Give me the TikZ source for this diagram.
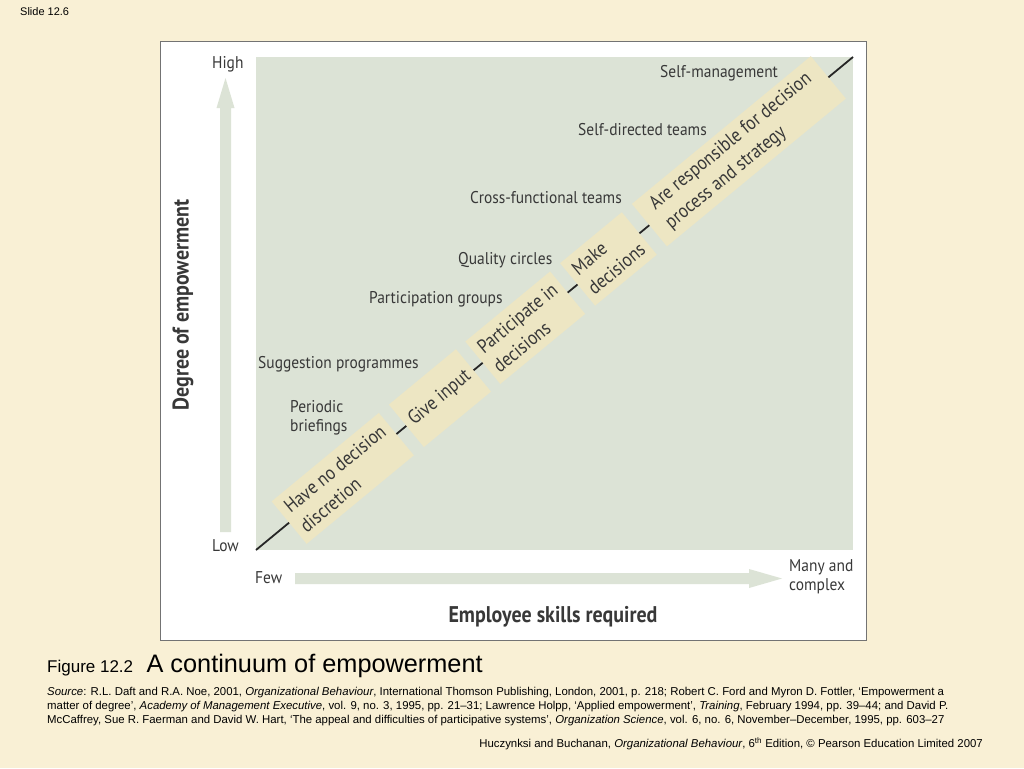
\documentclass[tikz,border=0pt]{standalone}
\usepackage{fontspec}
\setmainfont{Liberation Sans}
\newfontfamily\figfont[FakeStretch=0.88]{PT Sans}
\newfontfamily\labfont[FakeStretch=0.91]{PT Sans}
\usetikzlibrary{positioning}
\definecolor{slidebg}{HTML}{F9F0D5}
\definecolor{plotbg}{HTML}{DCE3D6}
\definecolor{bandbg}{HTML}{EDE6C3}
\definecolor{labeltext}{HTML}{383838}
\tikzset{
	lab/.style = {font=\labfont\fontsize{17}{19}\selectfont, text=labeltext, inner sep=0pt, align=left},
	axistitle/.style = {font=\figfont\bfseries\fontsize{22.7}{26}\selectfont, text=labeltext, inner sep=0pt},
	band/.style = {fill=bandbg, sloped, inner sep=0pt, minimum height=55pt, align=left,
	 font=\figfont\fontsize{19.5}{25}\selectfont, text=labeltext},
	srcline/.style = {font=\fontsize{11.4}{14}\selectfont, inner sep=0pt, anchor=base west}
}

\begin{document}
\begin{tikzpicture}[x=1pt, y=-1pt]
\useasboundingbox[fill=slidebg] (0,0) rectangle (1024,768);

% FRAME
\draw[fill=white, draw=black!55, line width=1pt] (160,42) rectangle (866,640);
\fill[plotbg] (256,57) rectangle (853,550);
% axis arrows
\fill[plotbg] (220,532) -- (220,108) -- (216.5,108) -- (225.5,78) -- (234.5,108) -- (231,108) -- (231,532) -- cycle;
\fill[plotbg] (295,573) -- (749,573) -- (749,569) -- (782,578.5) -- (749,588) -- (749,584) -- (295,584) -- cycle;

% NODES
% axes
\node (high) [lab, anchor=west] at (212,64) {High};
\node (low) [lab, anchor=west] at (212,546) {Low};
\node (few) [lab, anchor=west] at (255,578) {Few};
\node (many) [lab, anchor=west] at (789,577) {Many and\\complex};
\node (xtitle) [axistitle] at (553,617) {Employee skills required};
\node (ytitle) [axistitle, rotate=90] at (183,305) {Degree of empowerment};
% practices
\node (selfman) [lab, anchor=west] at (660,73) {Self-management};
\node (selfdir) [lab, anchor=west] at (578,130) {Self-directed teams};
\node (cross) [lab, anchor=west] at (470,198) {Cross-functional teams};
\node (quality) [lab, anchor=west] at (458,260) {Quality circles};
\node (partgrp) [lab, anchor=west] at (369,299) {Participation groups};
\node (suggest) [lab, anchor=west] at (258,364) {Suggestion programmes};
\node (briefing) [lab, anchor=west] at (290,418) {Periodic\\briefings};

%CONNECTIONS
\coordinate (lo) at (256,550);
\coordinate (hi) at (853,57);
\draw[line width=1.8pt, black!85] (lo) -- (hi);
\path (lo) -- (hi)
	node (nodisc) [band, pos=0.1453, minimum width=139pt] {Have no decision\\discretion}
	node (input) [band, pos=0.3081, minimum width=87pt] {Give input}
	node (partic) [band, pos=0.4509, minimum width=110pt] {Participate in\\decisions}
	node (make) [band, pos=0.5904, minimum width=80pt] {Make\\decisions}
	node (resp) [band, pos=0.8088, minimum width=232pt] {Are responsible for decision\\process and strategy};

% CAPTION
\node (slide) [anchor=west, inner sep=0pt, font=\fontsize{11}{13}\selectfont] at (20,12) {Slide 12.6};
\node (fignum) [anchor=base west, inner sep=0pt, font=\fontsize{17}{20}\selectfont] at (47,672) {Figure 12.2};
\node (figtitle) [right=13pt of fignum.base east, anchor=base west, inner sep=0pt, font=\fontsize{25.3}{30}\selectfont] {A continuum of empowerment};
\node (src1) [srcline] at (47,695) {\textit{Source}: R.L. Daft and R.A. Noe, 2001, \textit{Organizational Behaviour}, International Thomson Publishing, London, 2001, p. 218; Robert C. Ford and Myron D. Fottler, ‘Empowerment a};
\node (src2) [srcline] at (47,709) {matter of degree’, \textit{Academy of Management Executive}, vol. 9, no. 3, 1995, pp. 21–31; Lawrence Holpp, ‘Applied empowerment’, \textit{Training}, February 1994, pp. 39–44; and David P.};
\node (src3) [srcline] at (47,723) {McCaffrey, Sue R. Faerman and David W. Hart, ‘The appeal and difficulties of participative systems’, \textit{Organization Science}, vol. 6, no. 6, November–December, 1995, pp. 603–27};
\node (credit) [anchor=base east, inner sep=0pt, font=\fontsize{11.4}{13}\selectfont] at (983,747) {Huczynksi and Buchanan, \textit{Organizational Behaviour}, 6\textsuperscript{th} Edition, © Pearson Education Limited 2007};

\end{tikzpicture}
\end{document}
